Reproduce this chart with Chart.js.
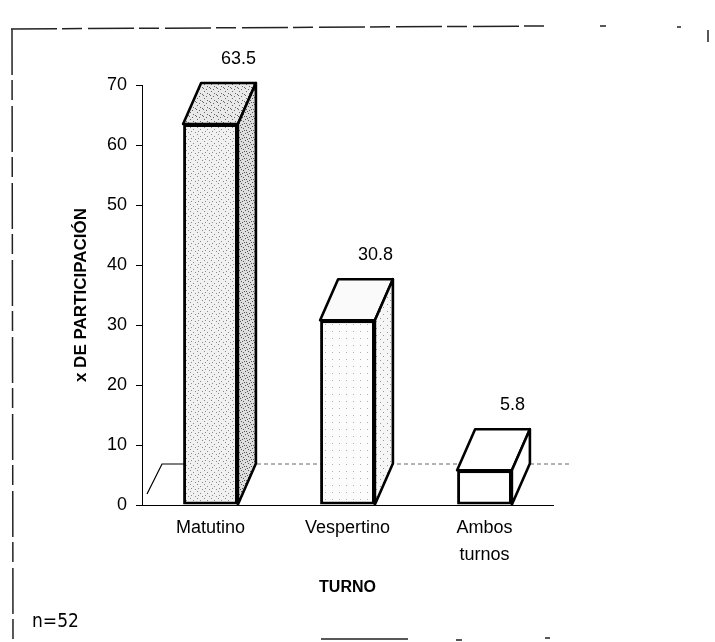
<!DOCTYPE html>
<html>
<head>
<meta charset="utf-8">
<title>Turno</title>
<script src="https://cdn.jsdelivr.net/npm/chart.js@4.4.1/dist/chart.umd.min.js"></script>
<style>
    html, body { margin: 0; padding: 0; background: #fff; }
    #wrap { width: 715px; height: 642px; }
</style>
</head>
<body>
<div id="wrap"><canvas id="turno-chart" width="715" height="642"></canvas></div>
<script>
// Datos
const categorias = ['Matutino', 'Vespertino', ['Ambos', 'turnos']];
const porcentajes = [63.5, 30.8, 5.8];
const ticksY = [0, 10, 20, 30, 40, 50, 60, 70];
const muestra = 'n=52';

// profundidad de las cajas 3D (px)
const PROF_X = 18;
const PROF_Y = -41;
const FUENTE = "'Liberation Sans', Arial, sans-serif";

// textura punteada tipo escaneo (puntos fijos)
function punteado(base, tinta, puntos) {
    const c = document.createElement('canvas');
    c.width = 7; c.height = 7;
    const g = c.getContext('2d');
    g.fillStyle = base;
    g.fillRect(0, 0, 7, 7);
    g.fillStyle = tinta;
    puntos.forEach(([px, py]) => g.fillRect(px, py, 1, 1));
    return g.createPattern(c, 'repeat');
}

const frente = [
    punteado('#f1f1f1', '#8a8a8a', [[1, 1], [4, 3], [2, 5], [6, 6]]),
    punteado('#fcfcfc', '#b0b0b0', [[3, 2]]),
    '#ffffff'
];
const lado = [
    punteado('#dedede', '#555', [[0, 0], [3, 1], [5, 2], [1, 4], [4, 5], [6, 4], [2, 6]]),
    punteado('#f6f6f6', '#999', [[2, 3], [5, 6]]),
    '#ffffff'
];
const tapa = [
    punteado('#e9e9e9', '#666', [[1, 0], [4, 2], [0, 4], [3, 5], [6, 3]]),
    '#fafafa',
    '#ffffff'
];

const cajas3d = {
    id: 'cajas3d',
    beforeDatasetsDraw(chart) {
        const { ctx, chartArea: a } = chart;
        ctx.save();
        ctx.strokeStyle = '#000';
        ctx.lineWidth = 1.2;
        // piso: arista izquierda
        ctx.beginPath();
        ctx.moveTo(a.left + 5, a.bottom - 11);
        ctx.lineTo(a.left + PROF_X + 2, a.bottom + PROF_Y);
        ctx.lineTo(a.left + 45, a.bottom + PROF_Y);
        ctx.stroke();
        // piso: arista del fondo
        ctx.strokeStyle = '#666';
        ctx.lineWidth = 1;
        ctx.setLineDash([4, 3]);
        ctx.beginPath();
        ctx.moveTo(a.left + 45, a.bottom + PROF_Y);
        ctx.lineTo(a.right + PROF_X, a.bottom + PROF_Y);
        ctx.stroke();
        ctx.restore();
    },
    afterDatasetsDraw(chart) {
        const ctx = chart.ctx;
        const meta = chart.getDatasetMeta(0);
        ctx.save();
        ctx.strokeStyle = '#000';
        ctx.lineWidth = 2.6;
        ctx.lineJoin = 'round';
        meta.data.forEach((bar, i) => {
            const { x, y, base, width } = bar.getProps(['x', 'y', 'base', 'width'], true);
            const l = x - width / 2;
            const r = x + width / 2;

            ctx.beginPath();
            ctx.moveTo(l, y);
            ctx.lineTo(l + PROF_X, y + PROF_Y);
            ctx.lineTo(r + PROF_X, y + PROF_Y);
            ctx.lineTo(r, y);
            ctx.closePath();
            ctx.fillStyle = tapa[i];
            ctx.fill();
            ctx.stroke();

            ctx.beginPath();
            ctx.moveTo(r, y);
            ctx.lineTo(r + PROF_X, y + PROF_Y);
            ctx.lineTo(r + PROF_X, base + PROF_Y);
            ctx.lineTo(r, base);
            ctx.closePath();
            ctx.fillStyle = lado[i];
            ctx.fill();
            ctx.stroke();

            ctx.fillStyle = '#000';
            ctx.font = '18px ' + FUENTE;
            ctx.textAlign = 'center';
            ctx.textBaseline = 'middle';
            ctx.fillText(String(porcentajes[i]), x + 28, y + PROF_Y - 24);
        });
        ctx.restore();
    }
};

// marco del escaneo y nota de la muestra
const marco = {
    id: 'marco',
    afterDraw(chart) {
        const ctx = chart.ctx;
        ctx.save();
        ctx.strokeStyle = '#222';
        ctx.lineWidth = 1.5;
        ctx.setLineDash([46, 5, 20, 6]);
        ctx.beginPath();
        ctx.moveTo(11, 29);
        ctx.lineTo(545, 26);
        ctx.moveTo(12, 29);
        ctx.lineTo(13, 642);
        ctx.stroke();
        ctx.setLineDash([]);
        ctx.beginPath();
        ctx.moveTo(600, 26); ctx.lineTo(606, 26);
        ctx.moveTo(677, 27); ctx.lineTo(681, 27);
        ctx.moveTo(708, 30); ctx.lineTo(708, 42);
        ctx.moveTo(321, 639); ctx.lineTo(408, 639);
        ctx.moveTo(456, 640); ctx.lineTo(462, 640);
        ctx.moveTo(545, 638); ctx.lineTo(550, 638);
        ctx.stroke();

        ctx.fillStyle = '#000';
        ctx.font = "19px 'Liberation Sans Narrow', 'DejaVu Sans Condensed', sans-serif";
        ctx.textAlign = 'left';
        ctx.textBaseline = 'middle';
        ctx.fillText(muestra, 32, 622);
        ctx.restore();
    }
};

new Chart(document.getElementById('turno-chart'), {
    type: 'bar',
    data: {
        labels: categorias,
        datasets: [{
            data: porcentajes,
            backgroundColor: frente,
            borderColor: '#000',
            borderWidth: 3,
            borderSkipped: false,
            categoryPercentage: 0.8,
            barPercentage: 0.5
        }]
    },
    options: {
        responsive: false,
        animation: false,
        devicePixelRatio: 1,
        layout: { padding: { left: 71, top: 85, right: 162, bottom: 45 } },
        scales: {
            x: {
                grid: { display: false, drawTicks: false },
                border: { display: true, color: '#000', width: 1 },
                ticks: {
                    color: '#000',
                    font: { family: FUENTE, size: 18, lineHeight: 1.5 },
                    padding: 10,
                    maxRotation: 0,
                    autoSkip: false
                },
                title: {
                    display: true,
                    text: 'TURNO',
                    color: '#000',
                    font: { family: FUENTE, size: 16, weight: 'bold' },
                    padding: 0
                },
                afterFit(s) { s.height = 92; }
            },
            y: {
                min: 0,
                max: 70,
                afterBuildTicks(s) { s.ticks = ticksY.map(v => ({ value: v })); },
                grid: { drawOnChartArea: false, drawTicks: true, tickLength: 6, color: '#000' },
                border: { display: true, color: '#000', width: 1 },
                ticks: {
                    color: '#000',
                    font: { family: FUENTE, size: 18 },
                    padding: 9
                },
                title: {
                    display: true,
                    text: 'x DE PARTICIPACIÓN',
                    color: '#000',
                    font: { family: FUENTE, size: 17, weight: 'bold' },
                    padding: 0
                },
                afterFit(s) { s.width = 71; }
            }
        },
        plugins: {
            legend: { display: false },
            tooltip: { enabled: false }
        }
    },
    plugins: [cajas3d, marco]
});
</script>
</body>
</html>
